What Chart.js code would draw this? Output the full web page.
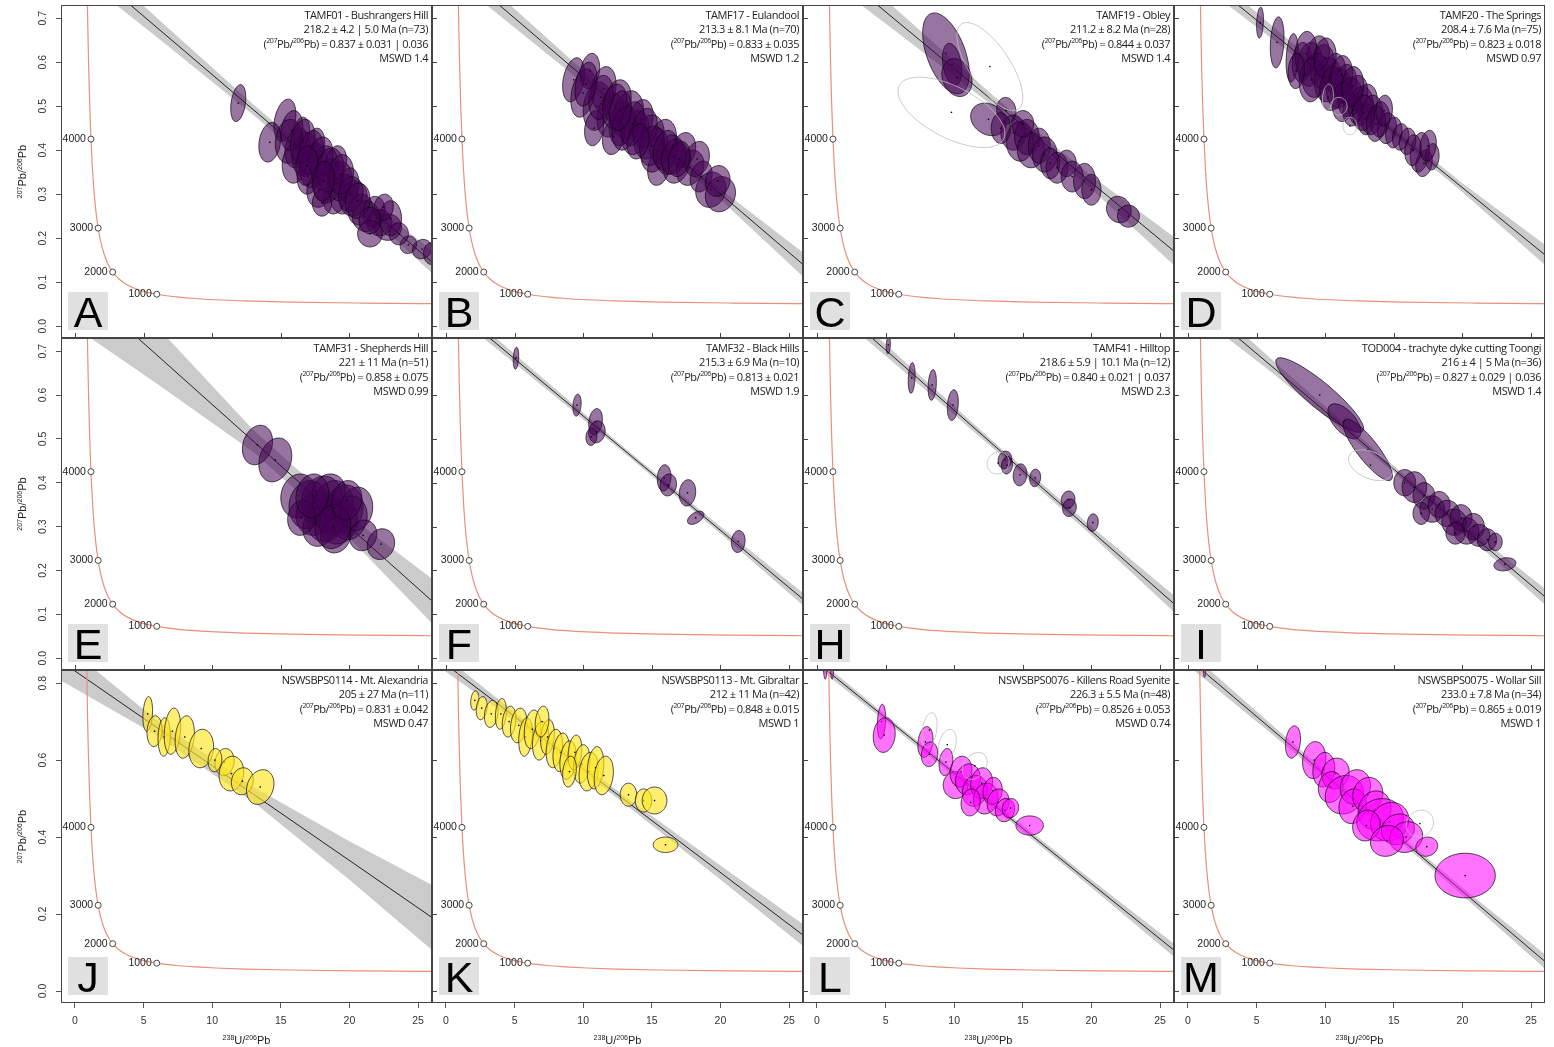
<!DOCTYPE html>
<html lang="en">
<head>
  <meta charset="UTF-8">
  <title>Tera-Wasserburg concordia panels</title>
  <script src="https://cdn.jsdelivr.net/npm/chart.js@4"></script>
  <style>
    body { margin: 0; background: #fff; }
    #wrap { position: relative; width: 1554px; height: 1047px; }
    #wrap canvas { position: absolute; }
  </style>
</head>
<body>
  <div id="wrap"></div>

  <script>
    // axis ticks
    const xTicks = [0, 5, 10, 15, 20, 25];
    const yTicksUpper = [0, 0.1, 0.2, 0.3, 0.4, 0.5, 0.6, 0.7];
    const yTicksLower = [0, 0.2, 0.4, 0.6, 0.8];

    // concordia curve (Tera-Wasserburg), oldest first
    const concordiaAge = [5100, 5000, 4900, 4800, 4700, 4500, 4250, 4000, 3750, 3500, 3250, 3000, 2750, 2500, 2250, 2000, 1750, 1500, 1250, 1100, 1000, 900, 800, 700, 600, 500, 400, 300, 250, 240];
    const concordiaX = [0.8292, 0.8533, 0.8783, 0.9045, 0.9317, 0.9902, 1.0713, 1.1630, 1.2673, 1.3858, 1.5254, 1.6875, 1.8796, 2.1111, 2.3942, 2.7490, 3.2063, 3.8168, 4.6731, 5.3746, 5.9590, 6.6742, 7.5677, 8.7181, 10.2518, 12.399, 15.621, 20.992, 25.289, 26.363];
    const concordiaY = [0.9075, 0.8458, 0.7882, 0.7350, 0.6854, 0.5969, 0.5032, 0.4252, 0.3602, 0.3059, 0.2607, 0.2228, 0.1910, 0.1644, 0.1419, 0.1230, 0.1071, 0.0936, 0.0822, 0.0762, 0.0725, 0.0691, 0.0658, 0.0628, 0.0599, 0.0572, 0.0547, 0.0524, 0.0512, 0.0510];
    const markerAge = [4000, 3000, 2000, 1000];
    const markerX = [1.1630, 1.6875, 2.7490, 5.9590];
    const markerY = [0.4252, 0.2228, 0.1230, 0.0725];

    // x positions of the error envelope samples
    const bandX = [-1, 6, 13, 20, 27];

    // ellipses: [x, y, half width in x, half height in y, correlation]
    const ellA = [
      [11.9, 0.507, 0.55, 0.042, 0.3], [15.3, 0.468, 0.8, 0.048, 0.3], [14.2, 0.418, 0.8, 0.045, 0.2],
      [15.6, 0.42, 1.0, 0.05, 0.1], [16.2, 0.405, 0.9, 0.045, 0.2], [16.8, 0.39, 1.0, 0.05, 0.1],
      [16.0, 0.37, 0.9, 0.045, 0.1], [17.4, 0.365, 1.0, 0.05, 0.2], [17.0, 0.34, 0.8, 0.04, 0.1],
      [18.2, 0.36, 1.0, 0.05, 0.1], [18.5, 0.33, 1.1, 0.05, 0.2], [17.8, 0.31, 0.9, 0.04, 0.1],
      [19.3, 0.33, 0.9, 0.045, 0.1], [19.6, 0.30, 1.0, 0.045, 0.1], [18.9, 0.29, 0.8, 0.035, 0.1],
      [20.3, 0.29, 1.0, 0.04, 0.1], [20.8, 0.265, 0.9, 0.035, 0.1], [21.2, 0.25, 1.0, 0.035, 0.0],
      [21.8, 0.26, 0.8, 0.035, 0.1], [22.2, 0.235, 0.9, 0.03, 0.0], [22.8, 0.225, 1.0, 0.03, 0.0],
      [23.0, 0.245, 0.8, 0.04, 0.0], [21.5, 0.21, 0.9, 0.03, 0.0], [24.3, 0.185, 0.6, 0.02, 0.1],
      [25.3, 0.175, 0.7, 0.022, 0.1], [26.0, 0.165, 0.6, 0.025, 0.0], [17.5, 0.41, 0.7, 0.04, 0.2],
      [19.0, 0.37, 0.8, 0.04, 0.2], [16.5, 0.44, 0.6, 0.035, 0.2], [20.0, 0.32, 0.7, 0.04, 0.1],
      [18.0, 0.28, 0.7, 0.03, 0.0], [22.5, 0.27, 0.7, 0.03, 0.1], [15.8, 0.445, 0.8, 0.045, 0.2],
      [16.6, 0.42, 0.9, 0.05, 0.2], [17.2, 0.395, 0.9, 0.05, 0.2], [17.9, 0.385, 0.9, 0.045, 0.2],
      [18.6, 0.355, 1.0, 0.05, 0.1], [19.4, 0.345, 0.9, 0.045, 0.1], [20.1, 0.30, 0.9, 0.04, 0.1],
      [20.6, 0.285, 0.9, 0.04, 0.1], [21.5, 0.24, 0.8, 0.03, 0.0], [23.6, 0.21, 0.7, 0.025, 0.0],
      [16.9, 0.365, 0.8, 0.045, 0.1], [18.1, 0.33, 0.8, 0.045, 0.1]
    ];
    const ellB = [
      [9.3, 0.56, 0.8, 0.05, 0.3], [10.0, 0.53, 0.9, 0.055, 0.3], [10.5, 0.58, 0.7, 0.04, 0.2],
      [11.0, 0.50, 1.0, 0.055, 0.2], [11.5, 0.54, 0.9, 0.05, 0.2], [12.0, 0.48, 1.0, 0.05, 0.2],
      [12.5, 0.51, 1.0, 0.05, 0.2], [12.8, 0.46, 0.9, 0.05, 0.2], [13.3, 0.48, 1.1, 0.055, 0.2],
      [13.8, 0.44, 1.0, 0.05, 0.2], [14.2, 0.47, 0.9, 0.045, 0.2], [14.8, 0.43, 1.1, 0.05, 0.2],
      [15.2, 0.40, 1.0, 0.05, 0.2], [15.8, 0.42, 1.0, 0.05, 0.2], [16.3, 0.39, 1.0, 0.045, 0.2],
      [16.8, 0.37, 1.0, 0.045, 0.2], [17.3, 0.40, 0.9, 0.04, 0.2], [17.8, 0.36, 1.0, 0.04, 0.2],
      [18.3, 0.38, 0.9, 0.04, 0.2], [18.6, 0.34, 0.8, 0.035, 0.2], [19.3, 0.31, 1.1, 0.04, 0.1],
      [20.0, 0.30, 1.1, 0.04, 0.1], [19.8, 0.33, 0.9, 0.035, 0.1], [12.2, 0.43, 0.8, 0.04, 0.2],
      [15.5, 0.36, 0.8, 0.04, 0.2], [10.8, 0.45, 0.7, 0.04, 0.2], [11.3, 0.52, 0.9, 0.05, 0.2],
      [12.3, 0.50, 0.9, 0.05, 0.2], [13.0, 0.45, 0.9, 0.05, 0.2], [13.6, 0.46, 0.9, 0.05, 0.2],
      [14.5, 0.45, 0.9, 0.045, 0.2], [15.0, 0.41, 0.9, 0.045, 0.2], [16.0, 0.40, 0.9, 0.045, 0.2],
      [16.6, 0.385, 0.9, 0.04, 0.2], [17.0, 0.38, 0.8, 0.04, 0.2], [14.0, 0.42, 0.8, 0.04, 0.2],
      [10.2, 0.55, 0.8, 0.05, 0.3], [12.7, 0.49, 0.8, 0.045, 0.2]
    ];
    const ellC = [
      [9.4, 0.62, 1.7, 0.092, -0.5], [9.85, 0.595, 0.7, 0.048, -0.3], [10.2, 0.565, 1.1, 0.043, -0.2],
      [12.5, 0.47, 1.3, 0.037, -0.2], [13.8, 0.49, 0.7, 0.03, -0.1], [14.3, 0.44, 0.9, 0.04, 0],
      [14.8, 0.42, 1.0, 0.045, 0], [15.3, 0.43, 0.9, 0.04, 0], [15.6, 0.40, 1.0, 0.04, 0],
      [16.2, 0.41, 0.8, 0.04, 0], [16.6, 0.39, 0.9, 0.04, 0], [15.0, 0.46, 0.8, 0.03, 0],
      [17.0, 0.37, 0.7, 0.035, 0], [17.5, 0.36, 0.8, 0.035, 0], [18.2, 0.37, 0.7, 0.03, 0],
      [18.6, 0.34, 0.8, 0.035, 0], [19.5, 0.33, 0.8, 0.04, 0], [20.0, 0.31, 0.7, 0.035, 0],
      [22.0, 0.265, 0.9, 0.03, -0.1], [22.7, 0.25, 0.8, 0.025, 0], [13.4, 0.45, 0.7, 0.035, 0]
    ];
    const rejC = [[12.6, 0.59, 2.4, 0.10, -0.7], [9.8, 0.486, 3.9, 0.08, -0.6]];
    const ellD = [
      [5.25, 0.69, 0.25, 0.035, 0.2], [6.5, 0.645, 0.5, 0.058, 0.2], [7.6, 0.61, 0.45, 0.055, 0.2],
      [8.3, 0.60, 0.7, 0.045, 0.1], [8.9, 0.595, 0.9, 0.05, 0.1], [9.3, 0.57, 1.0, 0.05, 0.1],
      [9.8, 0.59, 0.9, 0.05, 0.1], [10.2, 0.56, 1.0, 0.05, 0.1], [10.7, 0.575, 0.8, 0.045, 0.1],
      [11.0, 0.54, 0.9, 0.045, 0.1], [11.5, 0.55, 0.8, 0.045, 0.1], [11.8, 0.52, 0.9, 0.045, 0.1],
      [12.3, 0.53, 0.8, 0.04, 0.1], [12.6, 0.50, 0.9, 0.045, 0.1], [13.0, 0.51, 0.8, 0.04, 0.1],
      [13.4, 0.48, 0.8, 0.045, 0.1], [13.0, 0.47, 0.6, 0.035, 0.1], [14.0, 0.47, 0.7, 0.04, 0.1],
      [14.5, 0.45, 0.7, 0.035, 0.1], [15.0, 0.44, 0.6, 0.035, 0.1], [15.5, 0.43, 0.6, 0.03, 0.1],
      [16.0, 0.42, 0.6, 0.03, 0.1], [16.9, 0.395, 0.7, 0.045, 0.2], [17.2, 0.37, 0.6, 0.03, 0.2],
      [9.5, 0.62, 0.8, 0.04, 0.1], [12.0, 0.49, 0.7, 0.035, 0.1], [8.6, 0.62, 0.8, 0.05, 0.1],
      [9.0, 0.56, 0.9, 0.05, 0.1], [10.0, 0.61, 0.8, 0.045, 0.1], [10.5, 0.54, 0.9, 0.05, 0.1],
      [11.2, 0.57, 0.8, 0.045, 0.1], [11.3, 0.51, 0.8, 0.045, 0.1], [12.0, 0.545, 0.8, 0.045, 0.1],
      [12.8, 0.485, 0.8, 0.04, 0.1], [13.7, 0.46, 0.7, 0.04, 0.1], [7.9, 0.58, 0.6, 0.04, 0.1],
      [14.3, 0.49, 0.6, 0.035, 0.1], [16.4, 0.40, 0.6, 0.035, 0.1], [17.8, 0.385, 0.5, 0.03, 0.1],
      [17.5, 0.41, 0.6, 0.035, 0.2]
    ];
    const rejD = [[10.2, 0.52, 0.4, 0.03, 0.2], [11.0, 0.50, 0.6, 0.02, 0], [11.8, 0.455, 0.5, 0.02, 0]];
    const ellE = [
      [13.3, 0.486, 1.1, 0.045, 0.2], [14.6, 0.452, 1.2, 0.05, 0.2], [16.3, 0.37, 1.3, 0.05, 0.1],
      [17.0, 0.35, 1.4, 0.055, 0.1], [17.5, 0.33, 1.4, 0.05, 0.1], [18.0, 0.36, 1.5, 0.055, 0.1],
      [18.3, 0.32, 1.4, 0.055, 0.1], [18.8, 0.345, 1.5, 0.06, 0.1], [19.2, 0.31, 1.4, 0.05, 0.1],
      [19.6, 0.34, 1.4, 0.055, 0.1], [20.0, 0.32, 1.3, 0.05, 0.1], [17.8, 0.30, 1.2, 0.045, 0.1],
      [20.5, 0.34, 1.2, 0.05, 0.1], [16.5, 0.32, 1.0, 0.04, 0.1], [21.0, 0.28, 1.0, 0.035, 0.1],
      [22.3, 0.26, 1.0, 0.035, 0.1], [19.0, 0.28, 1.1, 0.04, 0.1], [18.5, 0.38, 1.2, 0.04, 0.1],
      [17.3, 0.37, 1.2, 0.05, 0.1], [18.8, 0.30, 1.3, 0.05, 0.1], [19.8, 0.36, 1.1, 0.045, 0.1]
    ];
    const ellF = [
      [5.1, 0.684, 0.2, 0.025, 0.2], [9.55, 0.577, 0.3, 0.025, 0.2], [10.9, 0.539, 0.5, 0.03, 0.2],
      [11.0, 0.516, 0.6, 0.025, 0.1], [10.6, 0.505, 0.4, 0.02, 0.1], [15.9, 0.411, 0.5, 0.03, 0.1],
      [16.2, 0.395, 0.6, 0.025, 0.1], [17.6, 0.377, 0.6, 0.03, 0.1], [18.2, 0.32, 0.6, 0.015, 0.5],
      [21.3, 0.266, 0.5, 0.025, 0.1]
    ];
    const ellH = [
      [5.2, 0.714, 0.15, 0.02, 0.2], [6.9, 0.639, 0.25, 0.035, 0.2], [8.4, 0.623, 0.3, 0.035, 0.2],
      [9.9, 0.577, 0.4, 0.035, 0.2], [13.7, 0.452, 0.5, 0.02, 0.1], [13.85, 0.44, 0.4, 0.02, 0.1],
      [14.8, 0.418, 0.5, 0.025, 0.1], [15.9, 0.411, 0.4, 0.02, 0.1], [18.3, 0.361, 0.5, 0.02, 0.1],
      [18.4, 0.343, 0.5, 0.02, 0.1], [20.1, 0.309, 0.4, 0.02, 0.1]
    ];
    const rejH = [[13.2, 0.445, 0.8, 0.025, 0.1]];
    const ellI = [
      [9.6, 0.60, 3.2, 0.085, -0.9], [11.4, 0.54, 1.2, 0.04, -0.6], [13.1, 0.475, 1.8, 0.07, -0.85],
      [15.8, 0.40, 0.8, 0.03, 0], [16.5, 0.39, 0.9, 0.035, 0], [17.2, 0.37, 0.8, 0.03, 0],
      [17.8, 0.34, 0.9, 0.03, 0], [18.3, 0.35, 0.8, 0.03, 0], [18.9, 0.33, 0.9, 0.03, 0],
      [19.4, 0.31, 0.9, 0.03, 0], [19.9, 0.32, 0.8, 0.03, 0], [20.3, 0.29, 0.9, 0.03, 0],
      [20.8, 0.30, 0.8, 0.03, 0], [21.2, 0.28, 0.8, 0.025, 0], [21.8, 0.27, 0.7, 0.025, 0],
      [22.4, 0.265, 0.5, 0.02, 0], [23.1, 0.214, 0.8, 0.015, 0.2], [17.0, 0.33, 0.6, 0.025, 0],
      [19.5, 0.285, 0.7, 0.025, 0]
    ];
    const rejI = [[13.3, 0.44, 1.6, 0.035, -0.4]];
    const ellJ = [
      [5.3, 0.72, 0.35, 0.045, 0.2], [5.8, 0.675, 0.55, 0.04, 0.1], [6.5, 0.66, 0.45, 0.05, 0.1],
      [7.1, 0.675, 0.6, 0.06, 0.2], [8.0, 0.66, 0.7, 0.055, 0.2], [9.2, 0.63, 0.9, 0.05, 0.1],
      [10.9, 0.595, 0.7, 0.035, 0.1], [11.4, 0.565, 0.9, 0.045, 0.1], [12.2, 0.545, 0.8, 0.035, 0.1],
      [13.5, 0.53, 1.0, 0.045, 0.2], [10.2, 0.60, 0.5, 0.03, 0.1]
    ];
    const ellK = [
      [2.1, 0.755, 0.3, 0.025, 0.2], [2.6, 0.735, 0.4, 0.03, 0.2], [3.3, 0.72, 0.5, 0.035, 0.2],
      [4.0, 0.72, 0.4, 0.04, 0.2], [4.6, 0.70, 0.5, 0.04, 0.2], [5.3, 0.69, 0.6, 0.045, 0.2],
      [5.8, 0.66, 0.5, 0.05, 0.2], [6.3, 0.68, 0.6, 0.05, 0.2], [6.9, 0.65, 0.6, 0.05, 0.2],
      [7.4, 0.66, 0.5, 0.045, 0.2], [7.9, 0.63, 0.6, 0.05, 0.2], [8.4, 0.62, 0.6, 0.05, 0.2],
      [8.9, 0.60, 0.6, 0.05, 0.2], [9.4, 0.62, 0.5, 0.045, 0.2], [9.9, 0.59, 0.6, 0.05, 0.2],
      [10.4, 0.57, 0.7, 0.05, 0.2], [10.9, 0.58, 0.6, 0.055, 0.2], [11.5, 0.56, 0.7, 0.05, 0.2],
      [13.3, 0.51, 0.6, 0.03, 0], [14.4, 0.495, 0.6, 0.03, 0], [15.2, 0.495, 0.9, 0.035, 0],
      [16.0, 0.38, 0.9, 0.02, 0], [7.0, 0.70, 0.5, 0.04, 0.2], [9.0, 0.57, 0.5, 0.04, 0.2]
    ];
    const ellL = [
      [0.6, 0.86, 0.15, 0.05, 0], [1.1, 0.85, 0.12, 0.04, 0], [4.7, 0.70, 0.3, 0.045, 0.2],
      [4.9, 0.665, 0.8, 0.045, 0.1], [7.9, 0.647, 0.55, 0.04, 0.2], [8.2, 0.615, 0.6, 0.032, 0.1],
      [9.4, 0.595, 0.5, 0.035, 0.2], [10.1, 0.535, 0.9, 0.035, 0], [10.5, 0.57, 0.8, 0.04, 0.1],
      [11.0, 0.55, 0.9, 0.04, 0.1], [11.5, 0.52, 0.9, 0.04, 0.1], [12.0, 0.54, 0.8, 0.04, 0.1],
      [12.3, 0.50, 0.9, 0.04, 0.1], [12.8, 0.52, 0.7, 0.035, 0.1], [13.2, 0.49, 0.8, 0.035, 0.1],
      [13.7, 0.47, 0.7, 0.03, 0.1], [14.1, 0.475, 0.6, 0.025, 0.1], [15.5, 0.43, 1.0, 0.025, 0],
      [11.2, 0.49, 0.7, 0.035, 0.1]
    ];
    const rejL = [[8.2, 0.678, 0.55, 0.045, 0.3], [9.5, 0.64, 0.65, 0.04, 0.3], [11.5, 0.585, 0.9, 0.035, 0.3]];
    const ellM = [
      [1.2, 0.845, 0.1, 0.03, 0], [7.65, 0.647, 0.55, 0.042, 0.2], [9.2, 0.60, 0.85, 0.048, 0.1],
      [9.9, 0.575, 0.8, 0.045, 0.1], [10.75, 0.565, 1.0, 0.04, 0.1], [10.4, 0.53, 0.9, 0.04, 0.1],
      [11.4, 0.51, 1.4, 0.05, 0.1], [12.2, 0.53, 1.1, 0.045, 0.1], [12.0, 0.48, 1.0, 0.045, 0.1],
      [13.1, 0.51, 1.1, 0.045, 0.1], [13.6, 0.47, 1.2, 0.05, 0.1], [14.0, 0.445, 1.7, 0.055, 0.1],
      [14.7, 0.44, 1.4, 0.05, 0.1], [13.0, 0.43, 1.0, 0.04, 0.1], [15.3, 0.42, 1.2, 0.04, 0.1],
      [15.9, 0.40, 1.2, 0.04, 0.1], [14.5, 0.39, 1.2, 0.04, 0.1], [17.4, 0.375, 0.8, 0.025, 0.1],
      [20.2, 0.30, 2.2, 0.058, 0]
    ];
    const rejM = [[16.9, 0.435, 1.0, 0.035, 0.1]];

    // regression line end points and envelope
    const lineA = [[-1, 0.864], [27, 0.120]], bandUpA = [0.899, 0.700, 0.504, 0.318, 0.148], bandLoA = [0.829, 0.656, 0.480, 0.294, 0.092];
    const lineB = [[-1, 0.860], [27, 0.114]], bandUpB = [0.890, 0.693, 0.497, 0.312, 0.144], bandLoB = [0.830, 0.653, 0.477, 0.288, 0.084];
    const lineC = [[-1, 0.870], [27, 0.145]], bandUpC = [0.910, 0.714, 0.520, 0.342, 0.180], bandLoC = [0.830, 0.664, 0.496, 0.312, 0.110];
    const lineD = [[-1, 0.848], [27, 0.137]], bandUpD = [0.873, 0.686, 0.501, 0.325, 0.162], bandLoD = [0.823, 0.656, 0.485, 0.305, 0.112];
    const lineE = [[-1, 0.886], [27, 0.103]], bandUpE = [0.996, 0.755, 0.520, 0.324, 0.158], bandLoE = [0.776, 0.625, 0.470, 0.274, 0.048];
    const lineF = [[-1, 0.839], [27, 0.109]], bandUpF = [0.854, 0.667, 0.480, 0.300, 0.124], bandLoF = [0.824, 0.647, 0.468, 0.284, 0.094];
    const lineH = [[-1, 0.868], [27, 0.097]], bandUpH = [0.888, 0.687, 0.490, 0.300, 0.117], bandLoH = [0.848, 0.663, 0.474, 0.280, 0.077];
    const lineI = [[-1, 0.853], [27, 0.114]], bandUpI = [0.883, 0.684, 0.492, 0.307, 0.134], bandLoI = [0.823, 0.654, 0.476, 0.291, 0.094];
    const lineJ = [[-1, 0.856], [27, 0.167]], bandUpJ = [0.906, 0.703, 0.531, 0.389, 0.257], bandLoJ = [0.806, 0.663, 0.491, 0.289, 0.077];
    const lineK = [[-1, 0.875], [27, 0.119]], bandUpK = [0.895, 0.696, 0.507, 0.326, 0.149], bandLoK = [0.855, 0.676, 0.487, 0.290, 0.089];
    const lineL = [[-1, 0.882], [27, 0.078]], bandUpL = [0.894, 0.688, 0.488, 0.289, 0.096], bandLoL = [0.870, 0.672, 0.472, 0.269, 0.060];
    const lineM = [[-1, 0.895], [27, 0.047]], bandUpM = [0.915, 0.695, 0.479, 0.269, 0.067], bandLoM = [0.875, 0.671, 0.463, 0.249, 0.027];

    // panel captions (^ marks a superscript)
    const textA = ['TAMF01 - Bushrangers Hill', '218.2 ± 4.2 | 5.0 Ma (n=73)', '(^207Pb/^206Pb) = 0.837 ± 0.031 | 0.036', 'MSWD 1.4'];
    const textB = ['TAMF17 - Eulandool', '213.3 ± 8.1 Ma (n=70)', '(^207Pb/^206Pb) = 0.833 ± 0.035', 'MSWD 1.2'];
    const textC = ['TAMF19 - Obley', '211.2 ± 8.2 Ma (n=28)', '(^207Pb/^206Pb) = 0.844 ± 0.037', 'MSWD 1.4'];
    const textD = ['TAMF20 - The Springs', '208.4 ± 7.6 Ma (n=75)', '(^207Pb/^206Pb) = 0.823 ± 0.018', 'MSWD 0.97'];
    const textE = ['TAMF31 - Shepherds Hill', '221 ± 11 Ma (n=51)', '(^207Pb/^206Pb) = 0.858 ± 0.075', 'MSWD 0.99'];
    const textF = ['TAMF32 - Black Hills', '215.3 ± 6.9 Ma (n=10)', '(^207Pb/^206Pb) = 0.813 ± 0.021', 'MSWD 1.9'];
    const textH = ['TAMF41 - Hilltop', '218.6 ± 5.9 | 10.1 Ma (n=12)', '(^207Pb/^206Pb) = 0.840 ± 0.021 | 0.037', 'MSWD 2.3'];
    const textI = ['TOD004 - trachyte dyke cutting Toongi', '216 ± 4 | 5 Ma (n=36)', '(^207Pb/^206Pb) = 0.827 ± 0.029 | 0.036', 'MSWD 1.4'];
    const textJ = ['NSWSBPS0114 - Mt. Alexandria', '205 ± 27 Ma (n=11)', '(^207Pb/^206Pb) = 0.831 ± 0.042', 'MSWD 0.47'];
    const textK = ['NSWSBPS0113 - Mt. Gibraltar', '212 ± 11 Ma (n=42)', '(^207Pb/^206Pb) = 0.848 ± 0.015', 'MSWD 1'];
    const textL = ['NSWSBPS0076 - Killens Road Syenite', '226.3 ± 5.5 Ma (n=48)', '(^207Pb/^206Pb) = 0.8526 ± 0.053', 'MSWD 0.74'];
    const textM = ['NSWSBPS0075 - Wollar Sill', '233.0 ± 7.8 Ma (n=34)', '(^207Pb/^206Pb) = 0.865 ± 0.019', 'MSWD 1'];

    const xTitle = '^238U/^206Pb';
    const yTitle = '^207Pb/^206Pb';

    const purple = 'rgba(68, 1, 84, 0.55)';
    const yellow = 'rgba(253, 231, 37, 0.65)';
    const magenta = 'rgba(255, 0, 255, 0.55)';

    const panels = [
      { letter: 'A', col: 0, row: 0, text: textA, ell: ellA, rej: [], line: lineA, up: bandUpA, lo: bandLoA, fill: purple },
      { letter: 'B', col: 1, row: 0, text: textB, ell: ellB, rej: [], line: lineB, up: bandUpB, lo: bandLoB, fill: purple },
      { letter: 'C', col: 2, row: 0, text: textC, ell: ellC, rej: rejC, line: lineC, up: bandUpC, lo: bandLoC, fill: purple },
      { letter: 'D', col: 3, row: 0, text: textD, ell: ellD, rej: rejD, line: lineD, up: bandUpD, lo: bandLoD, fill: purple },
      { letter: 'E', col: 0, row: 1, text: textE, ell: ellE, rej: [], line: lineE, up: bandUpE, lo: bandLoE, fill: purple },
      { letter: 'F', col: 1, row: 1, text: textF, ell: ellF, rej: [], line: lineF, up: bandUpF, lo: bandLoF, fill: purple },
      { letter: 'H', col: 2, row: 1, text: textH, ell: ellH, rej: rejH, line: lineH, up: bandUpH, lo: bandLoH, fill: purple },
      { letter: 'I', col: 3, row: 1, text: textI, ell: ellI, rej: rejI, line: lineI, up: bandUpI, lo: bandLoI, fill: purple },
      { letter: 'J', col: 0, row: 2, text: textJ, ell: ellJ, rej: [], line: lineJ, up: bandUpJ, lo: bandLoJ, fill: yellow },
      { letter: 'K', col: 1, row: 2, text: textK, ell: ellK, rej: [], line: lineK, up: bandUpK, lo: bandLoK, fill: yellow },
      { letter: 'L', col: 2, row: 2, text: textL, ell: ellL, rej: rejL, line: lineL, up: bandUpL, lo: bandLoL, fill: magenta },
      { letter: 'M', col: 3, row: 2, text: textM, ell: ellM, rej: rejM, line: lineM, up: bandUpM, lo: bandLoM, fill: magenta }
    ];

    // page geometry of the plot frames
    const colLeft = [61, 432, 803, 1174];
    const frameWidth = 371;
    const rowTop = [5, 338, 670];
    const rowBottom = [338, 670, 1003];
    const overhang = 10; // room left of inner panels for the "4000" label

    const axisFont = 'Liberation Sans, Arial, sans-serif';
    const noteFont = '"Open Sans", "Noto Sans", sans-serif';

    // draws text where ^123 is a superscript
    function richText(ctx, str, x, y, size, family, align) {
      const parts = str.split(/\^(\d+)/);
      const big = size + 'px ' + family;
      const small = Math.round(size * 0.68) + 'px ' + family;
      const widths = parts.map((s, i) => { ctx.font = i % 2 ? small : big; return ctx.measureText(s).width; });
      const total = widths.reduce((a, b) => a + b, 0);
      let cx = align === 'right' ? x - total : align === 'center' ? x - total / 2 : x;
      ctx.textAlign = 'left';
      ctx.textBaseline = 'alphabetic';
      parts.forEach((s, i) => {
        ctx.font = i % 2 ? small : big;
        ctx.fillText(s, cx, i % 2 ? y - size * 0.4 : y);
        cx += widths[i];
      });
    }

    function drawEllipse(ctx, sx, sy, e, fill, stroke) {
      const [cx, cy, rx, ry, rho] = e;
      const k = Math.sqrt(1 - rho * rho);
      ctx.beginPath();
      for (let i = 0; i <= 60; i++) {
        const t = i / 60 * 2 * Math.PI;
        const px = sx.getPixelForValue(cx + rx * Math.cos(t));
        const py = sy.getPixelForValue(cy + ry * (rho * Math.cos(t) + k * Math.sin(t)));
        if (i === 0) ctx.moveTo(px, py); else ctx.lineTo(px, py);
      }
      ctx.closePath();
      if (fill) { ctx.fillStyle = fill; ctx.fill(); }
      ctx.strokeStyle = stroke;
      ctx.lineWidth = 0.8;
      ctx.stroke();
      ctx.fillStyle = '#000';
      ctx.fillRect(sx.getPixelForValue(cx) - 0.7, sy.getPixelForValue(cy) - 0.7, 1.4, 1.4);
    }

    function makeDecor(p, yTicks) {
      return {
        id: 'decor' + p.letter,
        afterDatasetsDraw(chart) {
          const { ctx, chartArea: a, scales: { x, y } } = chart;
          const first = p.col === 0, last = p.row === 2;

          // concordia age labels (may spill left over the frame)
          ctx.save();
          ctx.fillStyle = '#222';
          ctx.font = '10.5px ' + axisFont;
          ctx.textAlign = 'right';
          ctx.textBaseline = 'middle';
          markerAge.forEach((age, i) => {
            ctx.fillText(String(age), x.getPixelForValue(markerX[i]) - 5, y.getPixelForValue(markerY[i]));
          });
          ctx.restore();

          // ellipses
          ctx.save();
          ctx.beginPath();
          ctx.rect(a.left, a.top, a.right - a.left, a.bottom - a.top);
          ctx.clip();
          p.ell.forEach(e => drawEllipse(ctx, x, y, e, p.fill, 'rgba(15, 5, 20, 0.9)'));
          p.rej.forEach(e => drawEllipse(ctx, x, y, e, null, '#bdbdbd'));
          ctx.restore();

          // panel letter
          ctx.save();
          ctx.fillStyle = '#e1e1e1';
          ctx.fillRect(a.left + 7, a.bottom - 46, 40, 38);
          ctx.fillStyle = '#000';
          ctx.font = '43px ' + axisFont;
          ctx.textAlign = 'center';
          ctx.textBaseline = 'alphabetic';
          ctx.fillText(p.letter, a.left + 27, a.bottom - 11);

          // caption
          ctx.fillStyle = '#222';
          ctx.letterSpacing = '-0.45px';
          p.text.forEach((line, i) => richText(ctx, line, a.right - 4, a.top + 14.3 + 14.1 * i, 11, noteFont, 'right'));
          ctx.letterSpacing = '0px';

          // frame and inner ticks
          ctx.strokeStyle = '#444';
          ctx.lineWidth = 1;
          ctx.strokeRect(a.left + 0.5, a.top + 0.5, a.right - a.left - 1, a.bottom - a.top - 1);
          ctx.beginPath();
          if (!first) {
            yTicks.forEach(v => {
              const py = Math.round(y.getPixelForValue(v)) + 0.5;
              ctx.moveTo(a.left, py); ctx.lineTo(a.left + 5, py);
            });
          }
          if (!last) {
            xTicks.forEach(v => {
              const px = Math.round(x.getPixelForValue(v)) + 0.5;
              ctx.moveTo(px, a.bottom); ctx.lineTo(px, a.bottom - 5);
            });
          }
          ctx.stroke();

          // axis titles
          ctx.fillStyle = '#222';
          if (last) richText(ctx, xTitle, (a.left + a.right) / 2, a.bottom + 41, 11, axisFont, 'center');
          if (first) {
            ctx.translate(26, (a.top + a.bottom) / 2);
            ctx.rotate(-Math.PI / 2);
            richText(ctx, yTitle, 0, 0, 11, axisFont, 'center');
          }
          ctx.restore();
        }
      };
    }

    const wrap = document.getElementById('wrap');

    panels.forEach(p => {
      const first = p.col === 0, last = p.row === 2;
      const left = first ? 0 : colLeft[p.col] - overhang;
      const right = colLeft[p.col] + frameWidth;
      const top = p.row === 0 ? 0 : rowTop[p.row];
      const bottom = last ? 1047 : rowBottom[p.row];
      const yTicks = last ? yTicksLower : yTicksUpper;
      const yRange = last ? [-0.031, 0.834] : [-0.027, 0.73];

      const canvas = document.createElement('canvas');
      canvas.width = right - left;
      canvas.height = bottom - top;
      canvas.style.left = left + 'px';
      canvas.style.top = top + 'px';
      wrap.appendChild(canvas);

      const tickGrid = { display: true, drawOnChartArea: false, drawTicks: true, tickLength: 5, color: '#555', lineWidth: 1 };

      new Chart(canvas.getContext('2d'), {
        type: 'line',
        data: {
          datasets: [
            {
              data: bandX.map((v, i) => ({ x: v, y: p.up[i] })),
              borderWidth: 0, pointRadius: 0, fill: '+1', backgroundColor: '#cbcbcb', order: 5
            },
            {
              data: bandX.map((v, i) => ({ x: v, y: p.lo[i] })),
              borderWidth: 0, pointRadius: 0, fill: false, order: 5
            },
            {
              data: p.line.map(d => ({ x: d[0], y: d[1] })),
              borderColor: '#222', borderWidth: 1, pointRadius: 0, fill: false, order: 3
            },
            {
              data: concordiaX.map((v, i) => ({ x: v, y: concordiaY[i] })),
              borderColor: '#e8907a', borderWidth: 1.2, pointRadius: 0, fill: false,
              cubicInterpolationMode: 'monotone', order: 2
            },
            {
              data: markerX.map((v, i) => ({ x: v, y: markerY[i] })),
              showLine: false, pointRadius: 3, pointBackgroundColor: '#fff',
              pointBorderColor: '#333', pointBorderWidth: 0.9, fill: false, order: 1
            }
          ]
        },
        options: {
          responsive: false,
          devicePixelRatio: 1,
          animation: false,
          events: [],
          layout: { autoPadding: false, padding: { top: p.row === 0 ? 5 : 0, left: first ? 0 : overhang, right: 0, bottom: 0 } },
          plugins: { legend: { display: false }, tooltip: { enabled: false } },
          scales: {
            x: {
              type: 'linear', min: -1.02, max: 26.02, display: last,
              afterBuildTicks: s => { s.ticks = xTicks.map(v => ({ value: v })); },
              afterFit: s => { s.height = last ? 44 : 0; s.paddingLeft = 0; s.paddingRight = 0; },
              grid: tickGrid,
              border: { display: false },
              ticks: {
                padding: 7, maxRotation: 0, autoSkip: false, color: '#333',
                font: { family: axisFont, size: 10.5 },
                callback: v => String(v)
              }
            },
            y: {
              type: 'linear', min: yRange[0], max: yRange[1], display: first,
              afterBuildTicks: s => { s.ticks = yTicks.map(v => ({ value: v })); },
              afterFit: s => { s.width = first ? 61 : 0; s.paddingTop = 0; s.paddingBottom = 0; },
              grid: tickGrid,
              border: { display: false },
              ticks: {
                padding: 6, minRotation: 90, maxRotation: 90, crossAlign: 'center',
                autoSkip: false, color: '#333',
                font: { family: axisFont, size: 10.5 },
                callback: v => v.toFixed(1)
              }
            }
          }
        },
        plugins: [makeDecor(p, yTicks)]
      });
    });
  </script>
</body>
</html>
